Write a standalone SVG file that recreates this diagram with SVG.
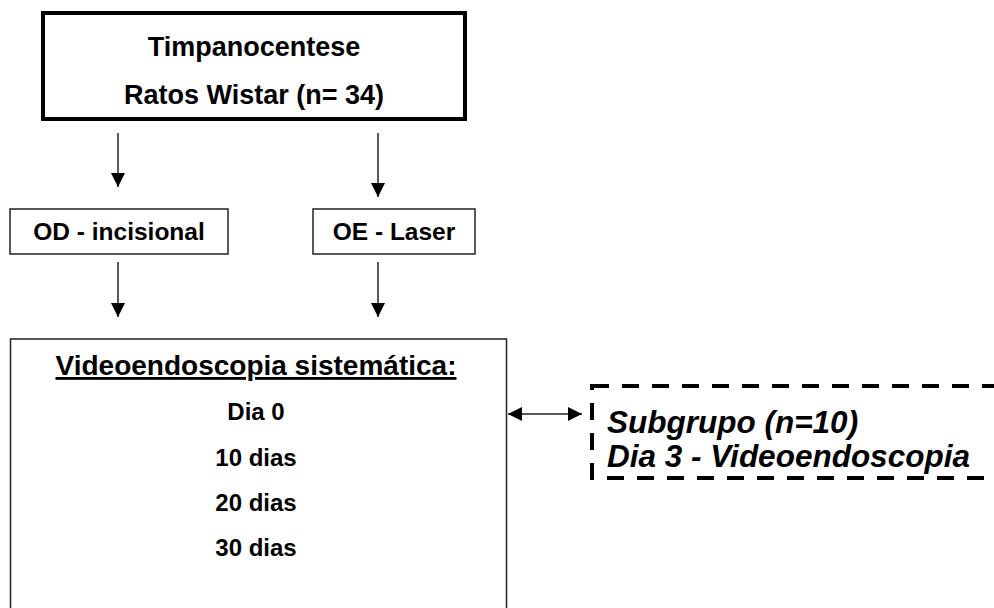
<svg xmlns="http://www.w3.org/2000/svg" width="994" height="608" viewBox="0 0 994 608">
  <style>
    .box { fill: #ffffff; stroke: #222222; stroke-width: 1.5; }
    .thick { fill: #ffffff; stroke: #000000; stroke-width: 4; }
    .dash { fill: none; stroke: #000000; stroke-width: 4; stroke-dasharray: 17 13; }
    .t { font-family: "Liberation Sans", Arial, sans-serif; font-weight: bold; fill: #000000; text-anchor: middle; }
    .it { font-family: "Liberation Sans", Arial, sans-serif; font-weight: bold; font-style: italic; fill: #000000; }
    .conn { stroke: #222222; stroke-width: 1.5; fill: none; }
  </style>
  <defs>
    <marker id="head" viewBox="0 0 14 14" refX="14" refY="7" markerWidth="14" markerHeight="14" markerUnits="userSpaceOnUse" orient="auto-start-reverse">
      <path d="M0,0 L14,7 L0,14 Z" fill="#000000"/>
    </marker>
  </defs>
  <rect width="994" height="608" fill="#ffffff"/>

  <g id="connectors">
    <line class="conn" x1="118" y1="133" x2="118" y2="187" marker-end="url(#head)"/>
    <line class="conn" x1="378" y1="133" x2="378" y2="197" marker-end="url(#head)"/>
    <line class="conn" x1="118" y1="262" x2="118" y2="317" marker-end="url(#head)"/>
    <line class="conn" x1="378" y1="262" x2="378" y2="317" marker-end="url(#head)"/>
    <line class="conn" x1="508" y1="414" x2="582" y2="414" marker-start="url(#head)" marker-end="url(#head)"/>
  </g>

  <g id="node-timpanocentese">
    <rect class="thick" x="43" y="13" width="422" height="106"/>
    <text class="t" x="254" y="56" font-size="27">Timpanocentese</text>
    <text class="t" x="254" y="104" font-size="27">Ratos Wistar (n= 34)</text>
  </g>

  <g id="node-od">
    <rect class="box" x="10" y="209" width="218" height="45"/>
    <text class="t" x="119" y="240" font-size="24.5">OD - incisional</text>
  </g>

  <g id="node-oe">
    <rect class="box" x="313" y="209" width="162" height="45"/>
    <text class="t" x="394" y="240" font-size="24.5">OE - Laser</text>
  </g>

  <g id="node-videoendoscopia">
    <rect class="box" x="10.5" y="339" width="496" height="290"/>
    <text class="t" x="256" y="375" font-size="28" text-decoration="underline">Videoendoscopia sistemática:</text>
    <text class="t" x="256" y="420" font-size="24">Dia 0</text>
    <text class="t" x="256" y="466" font-size="24">10 dias</text>
    <text class="t" x="256" y="511" font-size="24">20 dias</text>
    <text class="t" x="256" y="556" font-size="24">30 dias</text>
  </g>

  <g id="node-subgrupo">
    <rect class="dash" x="592" y="386" width="420" height="92"/>
    <text class="it" x="607" y="433" font-size="31.5">Subgrupo (n=10)</text>
    <text class="it" x="607" y="467" font-size="31.5">Dia 3 - Videoendoscopia</text>
  </g>
</svg>
